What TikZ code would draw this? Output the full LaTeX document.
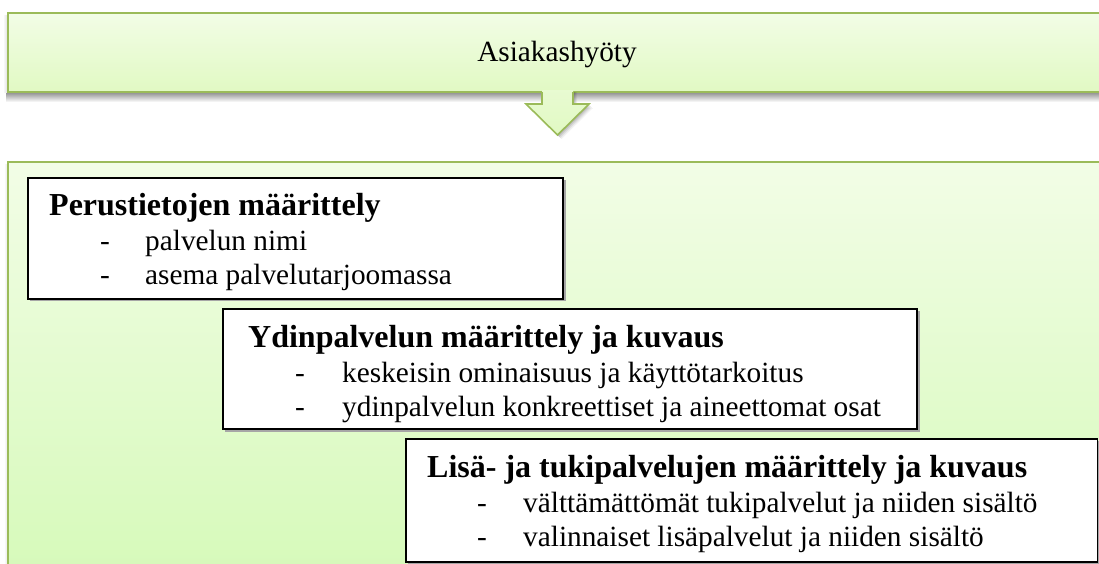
\documentclass[tikz,border=0pt]{standalone}
\usepackage{fontspec}
\setmainfont{Liberation Serif}
\begin{document}
\begin{tikzpicture}[x=1pt,y=-1pt]
\definecolor{leafline}{HTML}{9BBB59}
\definecolor{leaftop}{HTML}{F2FDE6}
\definecolor{leafbot}{HTML}{E1F9C3}
\tikzset{
  panel/.style={draw=leafline, line width=1.6pt, top color=leaftop, bottom color=leafbot},
  itembox/.style={draw=black, line width=1.1pt, fill=white},
  boxshadow/.style={fill=black!35},
  heading/.style={anchor=base west, inner sep=0pt, font=\fontsize{32}{38}\selectfont\bfseries},
  entry/.style={anchor=base west, inner sep=0pt, font=\fontsize{29.3}{35}\selectfont},
  banner/.style={anchor=base, inner sep=0pt, font=\fontsize{29.3}{35}\selectfont},
}
\useasboundingbox (0,0) rectangle (1099,563);
\fill[white] (0,0) rectangle (1099,563);
\begin{scope}
  \clip (0,0) rectangle (1099,563);

  % soft shadow under the banner
  \shade[top color=black!45, bottom color=white] (6,92) rectangle (1110,102);
  \shade[left color=white, right color=black!15] (3,15) rectangle (8,92);
  % banner
  \draw[panel] (8,13) rectangle (1110,92);
  \node[banner] (benefit) at (557,61) {Asiakashyöty};

  % lower panel
  \shade[left color=white, right color=black!12] (4,164) rectangle (8,575);
  \draw[panel, top color=leaftop, bottom color=leafbot!95!green] (8,162) rectangle (1110,580);

  % down arrow: shadow, fill, outline
  \foreach \d/\o in {4/0.05,3/0.07,2/0.09,1/0.1}
    \fill[black, opacity=\o] (542+\d,92) -- (542+\d,104+\d) -- (526+\d,104+\d)
      -- (557.5+\d,135+\d) -- (589+\d,104+\d) -- (573+\d,104+\d) -- (573+\d,92) -- cycle;
  \shade[top color=leafbot!60!leaftop, bottom color=leafbot]
    (542,90) -- (542,104) -- (526,104) -- (557.5,135) -- (589,104) -- (573,104) -- (573,90) -- cycle;
  \draw[leafline, line width=1.6pt, line join=miter]
    (542,92) -- (542,104) -- (526,104) -- (557.5,135) -- (589,104) -- (573,104) -- (573,92);

  % first box
  \fill[boxshadow] (30,180) rectangle (565.5,301);
  \draw[itembox] (28,178) rectangle (563,299);
  \node[heading] (h1) at (49,215) {Perustietojen määrittely};
  \node[entry] (d11) at (100,250) {-};
  \node[entry] (t11) at (145,250) {palvelun nimi};
  \node[entry] (d12) at (100,284) {-};
  \node[entry] (t12) at (145,284) {asema palvelutarjoomassa};

  % second box
  \fill[boxshadow] (225,311) rectangle (919.5,431.5);
  \draw[itembox] (223,309) rectangle (917,429);
  \node[heading] (h2) at (248,347) {Ydinpalvelun määrittely ja kuvaus};
  \node[entry] (d21) at (295,382) {-};
  \node[entry] (t21) at (342,382) {keskeisin ominaisuus ja käyttötarkoitus};
  \node[entry] (d22) at (295,416) {-};
  \node[entry] (t22) at (342,416) {ydinpalvelun konkreettiset ja aineettomat osat};

  % third box
  \fill[boxshadow] (408,441) rectangle (1100,565);
  \draw[itembox] (406,439) rectangle (1097.5,562);
  \node[heading] (h3) at (427,477) {Lisä- ja tukipalvelujen määrittely ja kuvaus};
  \node[entry] (d31) at (477,512) {-};
  \node[entry] (t31) at (523,512) {välttämättömät tukipalvelut ja niiden sisältö};
  \node[entry] (d32) at (477,546) {-};
  \node[entry] (t32) at (523,546) {valinnaiset lisäpalvelut ja niiden sisältö};
\end{scope}
\end{tikzpicture}
\end{document}
